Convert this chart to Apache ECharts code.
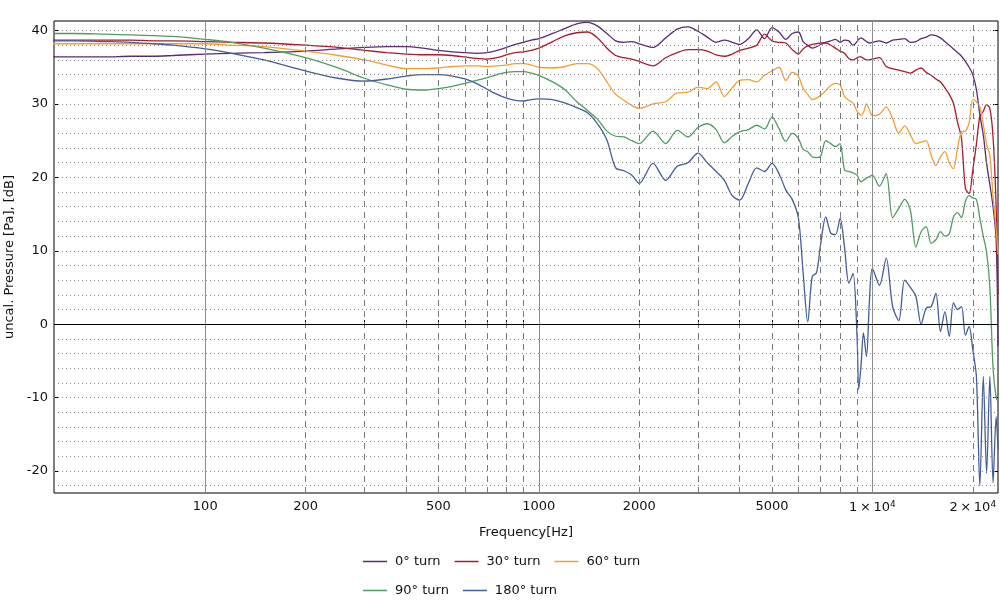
<!DOCTYPE html>
<html>
<head>
<meta charset="utf-8">
<script src="https://cdn.jsdelivr.net/npm/echarts@6/dist/echarts.min.js"></script>
<style>
  html, body { margin: 0; padding: 0; background: #fff; }
  #chart { width: 1000px; height: 607px; }
</style>
</head>
<body>
<div id="chart"></div>
<script>
// frequencies [Hz] shared by all curves
const freq = [35, 40, 50, 60, 70, 80, 100, 120, 150, 200,
  250, 300, 350, 400, 450, 500, 550, 600, 650, 700,
  750, 800, 850, 900, 950, 1000, 1100, 1200, 1300, 1400,
  1500, 1600, 1700, 1800, 1900, 2000, 2200, 2400, 2600, 2800,
  3000, 3200, 3400, 3600, 3800, 4000, 4250, 4500, 4750, 5000,
  5250, 5500, 5750, 6000, 6200, 6400, 6600, 6800, 7000, 7250,
  7500, 7750, 8000, 8250, 8500, 8750, 9000, 9100, 9250, 9400,
  9600, 9800, 10000, 10500, 11000, 11500, 12000, 12500, 13000, 13500,
  14000, 14500, 15000, 15500, 16000, 16500, 17000, 17500, 18000, 18500,
  19000, 19500, 20000, 20500, 21000, 21500, 22000, 22500, 23000, 23500,
  23800];

// levels [dB]
const turn0 = [36.4, 36.4, 36.4, 36.5, 36.5, 36.6, 36.8, 36.9, 37.0, 37.2,
  37.5, 37.7, 37.8, 37.8, 37.6, 37.3, 37.1, 37.0, 36.9, 37.0,
  37.3, 37.7, 38.1, 38.4, 38.7, 38.9, 39.6, 40.3, 40.9, 41.1,
  40.6, 39.6, 38.6, 38.4, 38.5, 38.2, 37.7, 39.0, 40.2, 40.5,
  39.9, 39.1, 38.4, 38.7, 38.4, 38.1, 38.9, 40.1, 38.9, 40.4,
  39.8, 38.8, 39.6, 39.8, 38.5, 38.0, 37.6, 37.8, 38.1, 38.4,
  38.6, 38.8, 38.4, 38.7, 38.6, 38.0, 38.5, 38.8, 39.0, 38.8,
  38.5, 38.3, 38.4, 38.6, 38.3, 38.7, 38.8, 38.9, 38.4, 38.5,
  38.9, 39.1, 39.4, 39.3, 39.0, 38.5, 38.0, 37.5, 37.0, 36.5,
  35.8, 35.0, 34.0, 32.0, 28.5, 25.8, 21.9, 19.0, 16.0, 11.5,
  -3.0];
const turn30 = [38.7, 38.7, 38.7, 38.7, 38.6, 38.6, 38.5, 38.4, 38.3, 38.0,
  37.7, 37.3, 37.0, 36.8, 36.7, 36.7, 36.6, 36.4, 36.2, 36.1,
  36.3, 36.7, 37.0, 37.1, 37.3, 37.6, 38.5, 39.3, 39.7, 39.8,
  39.0, 37.6, 36.6, 36.3, 36.1, 35.8, 35.2, 36.3, 37.0, 37.4,
  37.4, 37.2, 36.7, 36.5, 36.8, 37.3, 37.6, 38.0, 39.5, 38.6,
  38.4, 38.3, 37.4, 36.8, 37.5, 37.9, 38.1, 38.2, 38.3, 38.3,
  38.0, 37.6, 37.2, 36.9, 36.2, 36.0, 36.3, 36.4, 36.4, 36.2,
  36.0, 36.0, 36.1, 36.3, 35.1, 34.8, 34.6, 34.4, 34.2, 34.6,
  34.9, 34.3, 33.9, 33.4, 33.0, 32.2, 31.3, 30.1, 27.5, 25.3,
  18.5, 17.8, 21.0, 24.5, 28.3, 29.0, 29.9, 29.4, 25.5, 16.0,
  4.0];
const turn60 = [38.2, 38.2, 38.2, 38.2, 38.2, 38.2, 38.2, 38.0, 37.8, 37.2,
  36.6, 36.0, 35.3, 34.8, 34.8, 34.9, 35.1, 35.2, 35.2, 35.1,
  35.2, 35.3, 35.5, 35.5, 35.3, 35.0, 34.9, 35.1, 35.5, 35.5,
  34.8, 33.0, 31.3, 30.5, 29.8, 29.4, 30.0, 30.3, 31.5, 31.6,
  32.3, 32.1, 33.0, 31.0, 32.2, 33.2, 33.3, 33.0, 33.9, 34.5,
  35.0, 33.2, 34.3, 33.8, 32.1, 31.3, 30.6, 30.8, 31.2, 31.8,
  32.5, 32.8, 32.6, 31.0, 30.5, 30.1, 29.0, 28.7, 28.4, 28.8,
  30.0, 29.2, 28.4, 28.6, 29.6, 28.0, 26.0, 27.0, 25.8, 24.6,
  24.8, 25.0, 23.0, 21.6, 22.8, 23.5, 22.0, 21.2, 24.0, 26.2,
  26.3, 27.5, 30.6, 30.3, 29.6, 27.2, 24.5, 23.0, 17.4, 13.0,
  9.5];
const turn90 = [39.6, 39.6, 39.5, 39.4, 39.3, 39.2, 38.8, 38.4, 37.6, 36.3,
  34.9, 33.5, 32.6, 32.0, 31.9, 32.1, 32.4, 32.8, 33.2, 33.6,
  34.0, 34.3, 34.4, 34.4, 34.2, 33.9, 33.0, 31.9, 30.3, 29.1,
  27.9, 26.3, 25.6, 25.5, 25.0, 24.6, 26.3, 24.6, 26.4, 25.5,
  26.8, 27.3, 26.5, 24.7, 25.6, 26.2, 26.5, 27.1, 26.6, 28.2,
  26.6, 24.9, 26.0, 25.3, 23.8, 23.5, 22.8, 22.7, 22.9, 25.0,
  24.6, 24.2, 24.6, 21.0, 20.8, 20.6, 20.3, 19.8, 19.4, 19.6,
  19.9, 20.1, 20.3, 18.8, 20.5, 14.5, 15.8, 17.0, 15.5, 10.5,
  12.6, 13.3, 11.0, 11.5, 12.6, 12.0, 12.3, 14.6, 15.2, 14.5,
  16.7, 17.5, 17.2, 17.0, 14.4, 12.0, 9.8, 5.0, -6.0, -10.0,
  -10.5];
const turn180 = [38.6, 38.6, 38.5, 38.4, 38.2, 38.0, 37.5, 36.9, 36.0, 34.5,
  33.5, 33.1, 33.4, 33.8, 34.0, 34.0, 33.8, 33.4, 32.8, 32.0,
  31.3, 30.8, 30.5, 30.4, 30.6, 30.7, 30.6, 30.1, 29.5, 28.8,
  27.3, 25.1, 21.3, 20.9, 20.3, 19.2, 21.9, 19.6, 21.5, 22.0,
  23.3, 22.0, 20.8, 19.6, 17.5, 16.9, 19.2, 21.3, 20.8, 21.9,
  20.5, 18.3, 17.0, 14.5, 7.0, 0.3, 6.5, 7.0, 11.0, 14.6,
  12.4, 12.2, 14.4, 10.5, 5.6, 6.9, -2.0, -8.9, -5.5, -1.2,
  -4.4, 3.3, 7.6, 5.3, 9.0, 2.4, 0.5, 6.0, 5.0, 3.8,
  0.0, 2.2, 2.4, 4.2, -1.0, 1.7, -1.7, 2.9, 2.0, 2.4,
  -1.5, -0.3, -3.5, -7.1, -22.0, -7.1, -20.3, -7.1, -21.6, -12.6,
  -17.0];

const names = ['0° turn', '30° turn', '60° turn', '90° turn', '180° turn'];
const colors = ['#5b2a78', '#ac1a2c', '#f5a02c', '#4f9c62', '#435d9b'];
const curves = [turn0, turn30, turn60, turn90, turn180];

// axis ticks and grid positions
const xLabelVals = [100, 200, 500, 1000, 2000, 5000, 10000, 20000];
const xSolid = [100, 1000, 10000];
const xDashed = [200, 300, 400, 500, 600, 700, 800, 900,
  2000, 3000, 4000, 5000, 6000, 7000, 8000, 9000, 20000];
const yLabelVals = [-20, -10, 0, 10, 20, 30, 40];
const yDotted = [-22, -20, -18, -16, -14, -12, -10, -8, -6, -4, -2,
  2, 4, 6, 8, 10, 12, 14, 16, 18, 20, 22, 24, 26, 28, 30, 32, 34, 36, 38, 40];

const font = 'DejaVu Sans';
const chart = echarts.init(document.getElementById('chart'), null, { renderer: 'canvas' });

const lineMark = (list, axis, style) => ({
  silent: true,
  symbol: 'none',
  label: { show: false },
  lineStyle: style,
  data: list.map((v) => ({ [axis]: v })),
  animation: false,
});

const series = [
  {
    type: 'line', name: 'gridY', data: [], z: 1, silent: true,
    markLine: lineMark(yDotted, 'yAxis', { color: '#8a8a8a', width: 1, type: [1, 3] }),
  },
  {
    type: 'line', name: 'gridXd', data: [], z: 1, silent: true,
    markLine: lineMark(xDashed, 'xAxis', { color: '#7a7a7a', width: 1, type: [6, 5] }),
  },
  {
    type: 'line', name: 'gridXs', data: [], z: 1, silent: true,
    markLine: lineMark(xSolid, 'xAxis', { color: '#8c8c8c', width: 1, type: 'solid' }),
  },
  {
    type: 'line', name: 'zero', data: [], z: 2, silent: true,
    markLine: lineMark([0], 'yAxis', { color: '#000', width: 1, type: 'solid' }),
  },
];

curves.forEach((vals, i) => {
  series.push({
    type: 'line',
    name: names[i],
    data: freq.map((f, k) => [f, vals[k]]),
    showSymbol: false,
    smooth: 0.3,
    z: 3,
    lineStyle: { color: colors[i], width: 1.3 },
    itemStyle: { color: colors[i] },
  });
});

const legendBase = {
  left: 358,
  orient: 'horizontal',
  icon: 'rect',
  itemWidth: 24,
  itemHeight: 1.5,
  itemGap: 14,
  textStyle: { fontFamily: font, fontSize: 13, color: '#111', padding: [0, 0, 0, 3] },
};

const option = {
  animation: false,
  backgroundColor: '#fff',
  color: colors,
  grid: {
    left: 54, right: 2, top: 21, bottom: 114,
    outerBoundsMode: 'none',
    containLabel: false,
    show: true, borderColor: '#000', borderWidth: 1,
  },
  legend: [
    Object.assign({ top: 550, data: names.slice(0, 3) }, legendBase),
    Object.assign({ top: 579, data: names.slice(3) }, legendBase),
  ],
  xAxis: {
    type: 'log',
    logBase: 10,
    min: 35.2,
    max: 23800,
    name: 'Frequency[Hz]',
    nameLocation: 'middle',
    nameGap: 33,
    nameTextStyle: { fontFamily: font, fontSize: 13, color: '#111' },
    axisLine: { show: false },
    splitLine: { show: false },
    minorSplitLine: { show: false },
    axisTick: { show: true, inside: true, length: 4, customValues: xSolid.concat(xDashed), lineStyle: { color: '#000' } },
    axisLabel: {
      customValues: xLabelVals,
      margin: 7,
      fontFamily: font,
      fontSize: 13,
      color: '#111',
      formatter: (v) => {
        if (v >= 10000) return Math.round(v / 10000) + '\u2009×\u200910{sup|4}';
        return String(Math.round(v));
      },
      rich: { sup: { fontFamily: font, fontSize: 9, color: '#111', padding: [0, 0, 7, 0] } },
    },
  },
  yAxis: [
    {
      type: 'value',
      min: -23,
      max: 41.3,
      name: 'uncal. Pressure [Pa], [dB]',
      nameLocation: 'middle',
      nameGap: 38,
      nameTextStyle: { fontFamily: font, fontSize: 13, color: '#111' },
      axisLine: { show: false },
      splitLine: { show: false },
      axisTick: { show: true, inside: true, length: 5, customValues: yLabelVals, lineStyle: { color: '#000' } },
      axisLabel: { customValues: yLabelVals, margin: 6, fontFamily: font, fontSize: 13, color: '#111' },
    },
    {
      type: 'value',
      position: 'right',
      min: -23,
      max: 41.3,
      axisLine: { show: false },
      splitLine: { show: false },
      axisTick: { show: true, inside: true, length: 5, customValues: yLabelVals, lineStyle: { color: '#000' } },
      axisLabel: { show: false },
    },
  ],
  series: series,
};

chart.setOption(option);
</script>
</body>
</html>
